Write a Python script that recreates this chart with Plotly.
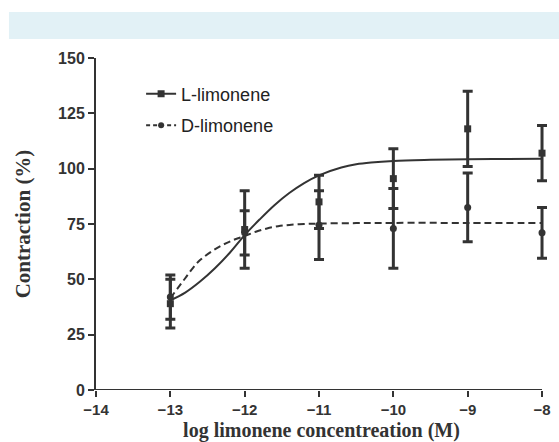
import plotly.graph_objects as go

log_conc = [-13, -12, -11, -10, -9, -8]
l_mean = [39, 72.5, 85, 95.5, 118, 107]
l_err = [11, 17.5, 12, 13.5, 17, 12.5]
d_mean = [42, 71, 74.5, 73, 82.5, 71]
d_err = [10, 10, 15.5, 18, 15.5, 11.5]

# Fitted curves
l_curve_x = [-13, -12.8, -12.6, -12.4, -12.2, -12, -11.8, -11.6, -11.4, -11.2, -11, -10.7, -10.5, -10.3, -10, -9.5, -9, -8.5, -8]
l_curve_y = [40.5, 44, 49, 55, 62, 70, 77, 83.5, 89, 93.5, 97, 100.5, 102, 102.8, 103.5, 104, 104.3, 104.4, 104.5]
d_curve_x = [-13, -12.9, -12.8, -12.7, -12.6, -12.45, -12.3, -12.15, -12, -11.85, -11.7, -11.55, -11.4, -11.2, -11, -10.5, -10, -9, -8]
d_curve_y = [41.5, 46, 50.5, 55, 58.7, 62.5, 65.5, 67.8, 69.6, 71.5, 73, 74, 74.6, 75, 75.2, 75.4, 75.5, 75.5, 75.5]

series_names = ["L-limonene", "D-limonene"]
x_ticks = [-14, -13, -12, -11, -10, -9, -8]
y_ticks = [0, 25, 50, 75, 100, 125, 150]

ink = "#333333"
fig = go.Figure()

# curves
fig.add_trace(go.Scatter(x=l_curve_x, y=l_curve_y, mode="lines", line=dict(color=ink, width=2, shape="spline"),
                         showlegend=False, hoverinfo="skip"))
fig.add_trace(go.Scatter(x=d_curve_x, y=d_curve_y, mode="lines", line=dict(color=ink, width=2, dash="7px,4px", shape="spline"),
                         showlegend=False, hoverinfo="skip"))
# data with error bars
fig.add_trace(go.Scatter(x=log_conc, y=l_mean, mode="markers", marker=dict(symbol="square", size=7, color=ink),
                         error_y=dict(type="data", array=l_err, color=ink, thickness=3, width=5),
                         showlegend=False, cliponaxis=False))
fig.add_trace(go.Scatter(x=log_conc, y=d_mean, mode="markers", marker=dict(symbol="circle", size=7, color=ink),
                         error_y=dict(type="data", array=d_err, color=ink, thickness=3, width=5),
                         showlegend=False, cliponaxis=False))
# legend entries
fig.add_trace(go.Scatter(x=[None], y=[None], mode="lines+markers", name=series_names[0], legendgroup="a",
                         line=dict(color=ink, width=2), marker=dict(symbol="square", size=7, color=ink)))
fig.add_trace(go.Scatter(x=[None], y=[None], mode="lines+markers", name=series_names[1], legendgroup="b",
                         line=dict(color=ink, width=2, dash="4px,3px"), marker=dict(symbol="circle", size=6, color=ink)))

fig.update_layout(
    width=559, height=442,
    margin=dict(l=96, r=12, t=58, b=52),
    paper_bgcolor="white", plot_bgcolor="white",
    font=dict(family="Liberation Sans, Arial", color=ink),
    legend=dict(x=0.1, y=0.947, xanchor="left", yanchor="top", bgcolor="rgba(0,0,0,0)",
                font=dict(size=18, family="Liberation Sans, Arial", color="#222"),
                traceorder="grouped", tracegroupgap=5, itemwidth=30),
    shapes=[
        dict(type="rect", xref="paper", yref="paper", x0=-0.193, x1=1.03, y0=1.0572, y1=1.1386,
             fillcolor="#e2f1f6", line=dict(width=0), layer="below"),
        # x axis line ending exactly at the last tick
        dict(type="line", xref="x", yref="y", x0=x_ticks[0], x1=x_ticks[-1], y0=0, y1=0,
             line=dict(color=ink, width=2), layer="above"),
    ],
)
fig.update_xaxes(range=[-14, -7.933], tickvals=x_ticks, ticks="outside", ticklen=6, tickwidth=2, tickcolor=ink,
                 showline=False, showgrid=False, zeroline=False, automargin=False,
                 tickfont=dict(size=15, family="Liberation Sans, Arial", color=ink, weight="bold"),
                 title=dict(text="<b>log limonene concentreation (M)</b>", standoff=6,
                            font=dict(size=20, family="Liberation Serif, Times New Roman", color=ink)))
fig.update_yaxes(range=[0, 150], tickvals=y_ticks, ticks="outside", ticklen=6, tickwidth=2, tickcolor=ink,
                 showline=True, linewidth=2, linecolor=ink, showgrid=False, zeroline=False, automargin=False,
                 tickfont=dict(size=16, family="Liberation Sans, Arial", color=ink, weight="bold"),
                 title=dict(text="<b>Contraction (%)</b>", standoff=22,
                            font=dict(size=21, family="Liberation Serif, Times New Roman", color=ink)))

fig.write_html("out.html", config={"displayModeBar": False},
               post_script="document.body.style.margin='0';document.documentElement.style.overflow='hidden';")
